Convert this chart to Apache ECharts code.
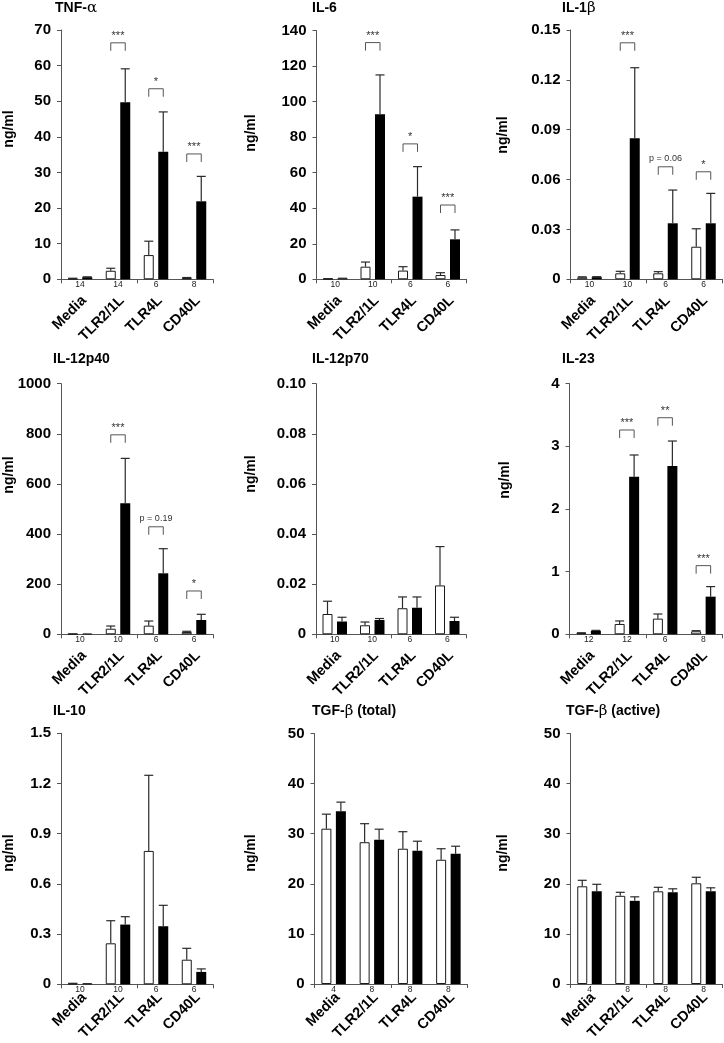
<!DOCTYPE html>
<html><head><meta charset="utf-8">
<script src="https://cdn.jsdelivr.net/npm/echarts@6/dist/echarts.min.js"></script>
<style>html,body{margin:0;padding:0;background:#fff}#c{width:724px;height:1043px}</style>
</head><body><div id="c"></div>
<script>
const categories = ['Media', 'TLR2/1L', 'TLR4L', 'CD40L'];

// TNF-alpha
const tnfN = ['14', '14', '6', '8'];
const tnfTicks = ['0', '10', '20', '30', '40', '50', '60', '70'];
const tnfWhite = [0.2, 2.4, 6.8, 0.4];
const tnfWhiteSem = [0.1, 0.7, 3.9, 0.1];
const tnfBlack = [0.6, 49.7, 35.8, 21.9];
const tnfBlackSem = [0.1, 9.4, 11.2, 7.0];
const tnfSig = [[1, 66.4, '***'], [2, 53.5, '*'], [3, 35.2, '***']];

// IL-6
const il6N = ['10', '10', '6', '6'];
const il6Ticks = ['0', '20', '40', '60', '80', '100', '120', '140'];
const il6White = [0.3, 7.1, 4.9, 2.4];
const il6WhiteSem = [0.1, 2.6, 2.2, 1.3];
const il6Black = [0.5, 92.9, 46.5, 22.5];
const il6BlackSem = [0.1, 22.1, 16.9, 5.3];
const il6Sig = [[1, 133.2, '***'], [2, 76.2, '*'], [3, 41.8, '***']];

// IL-1beta
const il1bN = ['10', '10', '6', '6'];
const il1bTicks = ['0', '0.03', '0.06', '0.09', '0.12', '0.15'];
const il1bWhite = [0.0012, 0.0036, 0.0036, 0.0196];
const il1bWhiteSem = [0.0003, 0.0012, 0.0010, 0.0108];
const il1bBlack = [0.0013, 0.0848, 0.0337, 0.0337];
const il1bBlackSem = [0.0003, 0.0425, 0.0200, 0.0180];
const il1bSig = [[1, 0.1423, '***'], [2, 0.0677, 'p = 0.06'], [3, 0.0647, '*']];

// IL-12p40
const p40N = ['10', '10', '6', '6'];
const p40Ticks = ['0', '200', '400', '600', '800', '1000'];
const p40White = [1, 22.3, 34.5, 9];
const p40WhiteSem = [0.5, 10.7, 18.5, 3];
const p40Black = [1, 522.7, 243.4, 57];
const p40BlackSem = [0.5, 179.3, 98.2, 22.8];
const p40Sig = [[1, 796, '***'], [2, 429, 'p = 0.19'], [3, 172.8, '*']];

// IL-12p70
const p70N = ['10', '10', '6', '6'];
const p70Ticks = ['0', '0.02', '0.04', '0.06', '0.08', '0.10'];
const p70White = [0.0081, 0.0036, 0.0104, 0.0195];
const p70WhiteSem = [0.0051, 0.0013, 0.0045, 0.0155];
const p70Black = [0.0051, 0.0057, 0.0106, 0.0053];
const p70BlackSem = [0.0017, 0.0006, 0.0043, 0.0015];
const p70Sig = [];

// IL-23
const il23N = ['12', '12', '6', '8'];
const il23Ticks = ['0', '1', '2', '3', '4'];
const il23White = [0.02, 0.165, 0.25, 0.048];
const il23WhiteSem = [0.005, 0.048, 0.074, 0.01];
const il23Black = [0.053, 2.516, 2.686, 0.601];
const il23BlackSem = [0.01, 0.346, 0.399, 0.16];
const il23Sig = [[1, 3.261, '***'], [2, 3.457, '**'], [3, 1.096, '***']];

// IL-10
const il10N = ['10', '10', '6', '6'];
const il10Ticks = ['0', '0.3', '0.6', '0.9', '1.2', '1.5'];
const il10White = [0.005, 0.245, 0.797, 0.147];
const il10WhiteSem = [0.001, 0.135, 0.452, 0.068];
const il10Black = [0.003, 0.357, 0.347, 0.074];
const il10BlackSem = [0.001, 0.047, 0.125, 0.018];
const il10Sig = [];

// TGF-beta (total)
const tgfTotN = ['4', '8', '8', '8'];
const tgfTotTicks = ['0', '10', '20', '30', '40', '50'];
const tgfTotWhite = [31.0, 28.3, 27.0, 24.8];
const tgfTotWhiteSem = [2.9, 3.7, 3.4, 2.2];
const tgfTotBlack = [34.5, 28.8, 26.6, 26.0];
const tgfTotBlackSem = [1.8, 2.1, 1.9, 1.5];
const tgfTotSig = [];

// TGF-beta (active)
const tgfActN = ['4', '8', '8', '8'];
const tgfActTicks = ['0', '10', '20', '30', '40', '50'];
const tgfActWhite = [19.5, 17.6, 18.5, 20.1];
const tgfActWhiteSem = [1.2, 0.7, 0.8, 1.2];
const tgfActBlack = [18.5, 16.6, 18.3, 18.5];
const tgfActBlackSem = [1.4, 0.8, 0.7, 0.7];
const tgfActSig = [];

const panels = [
  {title: 'TNF-α', n: tnfN, ticks: tnfTicks, interval: 10, max: 70, white: tnfWhite, whiteSem: tnfWhiteSem, black: tnfBlack, blackSem: tnfBlackSem, sig: tnfSig},
  {title: 'IL-6', n: il6N, ticks: il6Ticks, interval: 20, max: 140, white: il6White, whiteSem: il6WhiteSem, black: il6Black, blackSem: il6BlackSem, sig: il6Sig},
  {title: 'IL-1β', n: il1bN, ticks: il1bTicks, interval: 0.03, max: 0.15, white: il1bWhite, whiteSem: il1bWhiteSem, black: il1bBlack, blackSem: il1bBlackSem, sig: il1bSig},
  {title: 'IL-12p40', n: p40N, ticks: p40Ticks, interval: 200, max: 1000, white: p40White, whiteSem: p40WhiteSem, black: p40Black, blackSem: p40BlackSem, sig: p40Sig},
  {title: 'IL-12p70', n: p70N, ticks: p70Ticks, interval: 0.02, max: 0.1, white: p70White, whiteSem: p70WhiteSem, black: p70Black, blackSem: p70BlackSem, sig: p70Sig},
  {title: 'IL-23', n: il23N, ticks: il23Ticks, interval: 1, max: 4, white: il23White, whiteSem: il23WhiteSem, black: il23Black, blackSem: il23BlackSem, sig: il23Sig},
  {title: 'IL-10', n: il10N, ticks: il10Ticks, interval: 0.3, max: 1.5, white: il10White, whiteSem: il10WhiteSem, black: il10Black, blackSem: il10BlackSem, sig: il10Sig},
  {title: 'TGF-β (total)', n: tgfTotN, ticks: tgfTotTicks, interval: 10, max: 50, white: tgfTotWhite, whiteSem: tgfTotWhiteSem, black: tgfTotBlack, blackSem: tgfTotBlackSem, sig: tgfTotSig},
  {title: 'TGF-β (active)', n: tgfActN, ticks: tgfActTicks, interval: 10, max: 50, white: tgfActWhite, whiteSem: tgfActWhiteSem, black: tgfActBlack, blackSem: tgfActBlackSem, sig: tgfActSig}
];

// layout: [left, top, width, height] of each plot area; title [x, y]; unit label [x, y]
const gridBoxes = [
  [61, 30, 152, 249.3], [316.5, 30.5, 150, 248.8], [570.5, 30, 152, 249.3],
  [61, 383.7, 152, 250.6], [316, 383.7, 150, 250.6], [569.5, 383.7, 153, 250.6],
  [61, 733.3, 152, 251], [314.5, 733.5, 153, 250.5], [570.5, 733.5, 152, 250.5]
];
const titlePos = [
  [55, 1], [312, 1], [562, 1],
  [53, 352], [312, 352], [562, 352],
  [53, 704], [312, 704], [566, 704]
];
const unitPos = [
  [9, 129], [251, 133], [503, 135],
  [9, 475], [251, 474], [505, 480],
  [9, 853], [251, 853], [503, 853]
];
const LABEL_SHIFT = 4; // rotated category labels sit slightly right of the category centre

const FONT = "'Liberation Sans', Arial, Helvetica, sans-serif";
const OFF = 7.25;

function errRender(side) {
  return function (params, api) {
    const c = api.value(0), m = api.value(1), e = api.value(2);
    const p0 = api.coord([c, m]);
    const p1 = api.coord([c, m + e]);
    const x = p0[0] + side * OFF;
    const st = {stroke: '#2a2a2a', lineWidth: 1.2};
    return {type: 'group', children: [
      {type: 'line', shape: {x1: x, y1: p0[1], x2: x, y2: p1[1]}, style: st},
      {type: 'line', shape: {x1: x - 4.5, y1: p1[1], x2: x + 4.5, y2: p1[1]}, style: st}
    ]};
  };
}
function sigRender(sig) {
  return function (params, api) {
    const c = api.value(0), y = api.value(1);
    const p = api.coord([c, y]);
    const xl = p[0] - OFF, xr = p[0] + OFF;
    const lab = sig[params.dataIndex][2];
    const star = lab.indexOf('*') >= 0;
    return {type: 'group', children: [
      {type: 'polyline', shape: {points: [[xl, p[1] + 8], [xl, p[1]], [xr, p[1]], [xr, p[1] + 8]]},
        style: {stroke: '#555', fill: 'none', lineWidth: 1}},
      {type: 'text', x: p[0], y: p[1] - (star ? 1.5 : 4),
        style: {text: lab, fill: '#333', font: (star ? '11px ' : '9px ') + FONT, align: 'center', verticalAlign: 'bottom'}}
    ]};
  };
}

const option = {
  animation: false,
  backgroundColor: '#fff',
  textStyle: {fontFamily: FONT},
  title: [], grid: [], xAxis: [], yAxis: [], series: [], graphic: []
};

const N = panels.length;
panels.forEach((p, i) => {
  const g = gridBoxes[i];
  option.title.push({text: p.title.replace(/([αβ])/g, '{g|$1}'), left: titlePos[i][0], top: titlePos[i][1], padding: 0,
    textStyle: {fontSize: 14, fontWeight: 'bold', color: '#000', fontFamily: FONT,
      rich: {g: {fontSize: 15, fontWeight: 'normal', fontFamily: "'DejaVu Serif', 'Liberation Serif', serif", color: '#000'}}}});
  option.grid[i] = {left: g[0], top: g[1], width: g[2], height: g[3], containLabel: false};
  // label-only grid, nudged right, carrying the rotated category names
  option.grid[N + i] = {left: g[0] + LABEL_SHIFT, top: g[1], width: g[2], height: g[3], containLabel: false};
  option.xAxis[3 * i] = {
    type: 'category', gridIndex: i, data: categories, position: 'bottom',
    axisLine: {show: true, lineStyle: {color: '#555', width: 1}},
    axisTick: {show: true, length: 4, lineStyle: {color: '#555'}},
    axisLabel: {show: false},
    splitLine: {show: false}
  };
  option.xAxis[3 * i + 1] = {
    type: 'category', gridIndex: i, data: p.n, position: 'bottom', offset: 0,
    axisLine: {show: false}, axisTick: {show: false},
    axisLabel: {interval: 0, margin: 1, fontSize: 8.5, color: '#222', fontFamily: FONT},
    splitLine: {show: false}
  };
  option.xAxis[3 * i + 2] = {
    type: 'category', gridIndex: N + i, data: categories, position: 'bottom',
    axisLine: {show: false}, axisTick: {show: false},
    axisLabel: {interval: 0, rotate: 45, margin: 19, fontSize: 14.5, fontWeight: 'bold', color: '#000', fontFamily: FONT},
    splitLine: {show: false}
  };
  option.yAxis[i] = {
    type: 'value', gridIndex: i, min: 0, max: p.max, interval: p.interval,
    axisLine: {show: true, lineStyle: {color: '#555', width: 1}},
    axisTick: {show: true, length: 4, lineStyle: {color: '#555'}},
    splitLine: {show: false},
    axisLabel: {margin: 10, fontSize: 15, fontWeight: 'bold', color: '#000', fontFamily: FONT,
      formatter: (v) => p.ticks[Math.round(v / p.interval)]}
  };
  option.yAxis[N + i] = {
    type: 'value', gridIndex: N + i, min: 0, max: p.max, show: false
  };
  const xi = 3 * i;
  option.series.push({type: 'bar', xAxisIndex: xi, yAxisIndex: i, data: p.white, barWidth: 10, barGap: '45%',
    itemStyle: {color: '#fff', borderColor: '#1a1a1a', borderWidth: 1}, z: 2});
  option.series.push({type: 'bar', xAxisIndex: xi, yAxisIndex: i, data: p.black, barWidth: 10, barGap: '45%',
    itemStyle: {color: '#000'}, z: 2});
  option.series.push({type: 'custom', xAxisIndex: xi, yAxisIndex: i, renderItem: errRender(-1),
    data: p.white.map((v, k) => [k, v, p.whiteSem[k]]), encode: {x: 0, y: 1}, z: 3});
  option.series.push({type: 'custom', xAxisIndex: xi, yAxisIndex: i, renderItem: errRender(1),
    data: p.black.map((v, k) => [k, v, p.blackSem[k]]), encode: {x: 0, y: 1}, z: 3});
  if (p.sig.length) {
    option.series.push({type: 'custom', xAxisIndex: xi, yAxisIndex: i, renderItem: sigRender(p.sig),
      data: p.sig.map(s => [s[0], s[1]]), encode: {x: 0, y: 1}, z: 3});
  }
  option.graphic.push({type: 'text', x: unitPos[i][0], y: unitPos[i][1], rotation: Math.PI / 2,
    style: {text: 'ng/ml', font: 'bold 14px ' + FONT, fill: '#000', align: 'center', verticalAlign: 'middle'}});
});

const chart = echarts.init(document.getElementById('c'));
chart.setOption(option);
</script>
</body></html>
